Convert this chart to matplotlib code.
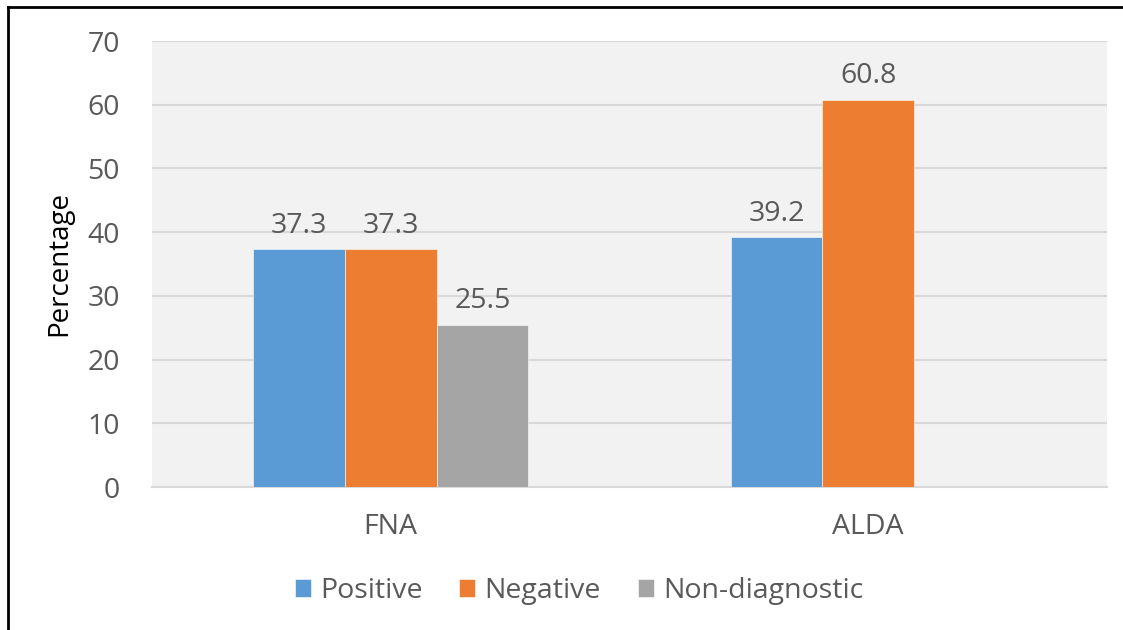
import numpy as np
import matplotlib
matplotlib.use("Agg")
import matplotlib.pyplot as plt
from matplotlib.lines import Line2D

categories = ["FNA", "ALDA"]
series_names = ["Positive", "Negative", "Non-diagnostic"]
positive = [37.3, 39.2]
negative = [37.3, 60.8]
non_diagnostic = [25.5, np.nan]
colors = ["#5B9BD5", "#ED7D31", "#A5A5A5"]
yticks = [0, 10, 20, 30, 40, 50, 60, 70]

plt.rcParams['font.family'] = ['Open Sans', 'DejaVu Sans']
text_color = "#595959"
fs = 20.5

fig = plt.figure(figsize=(11.23, 6.3), dpi=100)
ax = fig.add_axes([152/1123, 1-487/630, (1107-152)/1123, (487-41)/630])
ax.set_facecolor("#F2F2F2")

x = np.arange(len(categories))
width = 0.192
all_series = [positive, negative, non_diagnostic]
for i, (vals, name, c) in enumerate(zip(all_series, series_names, colors)):
    offs = (i - 1) * width
    ax.bar(x + offs, vals, width, color=c, label=name,
           edgecolor="white", linewidth=0.4, zorder=3)
    for xi, v in zip(x, vals):
        if np.isnan(v):
            continue
        ax.annotate(f"{v:.1f}", (xi + offs, v), xytext=(0, 7),
                    textcoords="offset points", ha="center", va="bottom",
                    fontsize=fs, color=text_color)

ax.set_xlim(-0.5, 1.5)
ax.set_ylim(0, 70)
ax.set_yticks(yticks)
ax.set_xticks(x)
ax.set_xticklabels(categories)
ax.tick_params(axis="both", length=0, labelsize=fs, colors=text_color)
ax.tick_params(axis="y", pad=23)
ax.tick_params(axis="x", pad=19)
ax.grid(axis="y", color="#D9D9D9", linewidth=1.5, zorder=0)
for s in ["top", "right", "left"]:
    ax.spines[s].set_visible(False)
ax.spines["bottom"].set_color("#D9D9D9")
ax.spines["bottom"].set_linewidth(1.5)

ax.set_ylabel("Percentage", fontsize=20, color="black", labelpad=10)

leg = fig.legend(loc="center", bbox_to_anchor=(579/1123, 1-591/630), ncol=3,
                 frameon=False, fontsize=fs, handlelength=0.56, handleheight=0.56,
                 handletextpad=0.32, columnspacing=1.3)
for t in leg.get_texts():
    t.set_color(text_color)

fig.add_artist(Line2D([8/1123, 8/1123], [0, 1-7/630], color="black", linewidth=2, transform=fig.transFigure))
fig.add_artist(Line2D([8/1123, 1], [1-7/630, 1-7/630], color="black", linewidth=2, transform=fig.transFigure))

fig.savefig("out.png", dpi=100, facecolor="white")
